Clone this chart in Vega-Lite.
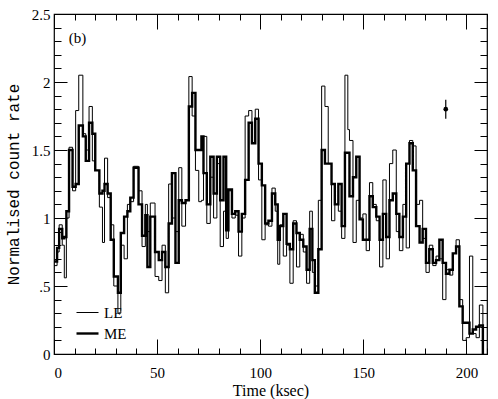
{
  "$schema": "https://vega.github.io/schema/vega-lite/v6.json",
  "width": 433,
  "height": 340,
  "autosize": {"type": "none"},
  "padding": {"left": 54, "top": 14, "right": 11, "bottom": 45},
  "background": "white",
  "config": {
    "view": {"stroke": "black", "strokeWidth": 1.2},
    "axis": {"domain": false, "grid": false, "tickColor": "black", "tickWidth": 1, "labelColor": "black", "titleColor": "black", "labelFont": "Liberation Serif", "labelFontSize": 15, "titleFontWeight": "normal"},
    "legend": {"orient": "none", "legendX": 21, "legendY": 287, "padding": 0, "rowPadding": 0, "symbolType": "stroke", "symbolSize": 484, "symbolStrokeColor": "black", "labelFont": "Liberation Serif", "labelFontSize": 15, "labelColor": "black", "labelOffset": 4}
  },
  "datasets": {
    "series": [
      {"t": 0, "v": 0.68, "s": "ME"}, {"t": 1.5, "v": 0.78, "s": "ME"}, {"t": 2.5, "v": 0.92, "s": "ME"}, {"t": 4, "v": 0.85, "s": "ME"}, {"t": 5, "v": 0.86, "s": "ME"}, {"t": 6, "v": 1.05, "s": "ME"}, {"t": 7.3, "v": 1.5, "s": "ME"}, {"t": 9, "v": 1.23, "s": "ME"}, {"t": 10.5, "v": 1.25, "s": "ME"}, {"t": 12, "v": 1.68, "s": "ME"}, {"t": 14, "v": 1.6, "s": "ME"}, {"t": 15.4, "v": 1.42, "s": "ME"}, {"t": 17, "v": 1.7, "s": "ME"}, {"t": 18.6, "v": 1.62, "s": "ME"}, {"t": 20, "v": 1.35, "s": "ME"}, {"t": 22, "v": 1.18, "s": "ME"}, {"t": 23.5, "v": 1.2, "s": "ME"}, {"t": 24.5, "v": 1.25, "s": "ME"}, {"t": 26, "v": 1.18, "s": "ME"}, {"t": 27.5, "v": 0.84, "s": "ME"}, {"t": 29, "v": 0.57, "s": "ME"}, {"t": 31, "v": 0.45, "s": "ME"}, {"t": 32.4, "v": 0.89, "s": "ME"}, {"t": 34, "v": 1.01, "s": "ME"}, {"t": 35.6, "v": 1.05, "s": "ME"}, {"t": 37, "v": 1.15, "s": "ME"}, {"t": 38.6, "v": 1.37, "s": "ME"}, {"t": 41, "v": 1.1, "s": "ME"}, {"t": 42.7, "v": 0.87, "s": "ME"}, {"t": 44.3, "v": 1.02, "s": "ME"}, {"t": 45.3, "v": 0.64, "s": "ME"}, {"t": 46.7, "v": 1.01, "s": "ME"}, {"t": 49, "v": 0.75, "s": "ME"}, {"t": 50.8, "v": 0.69, "s": "ME"}, {"t": 52.4, "v": 0.75, "s": "ME"}, {"t": 54, "v": 0.64, "s": "ME"}, {"t": 55.6, "v": 0.96, "s": "ME"}, {"t": 57.2, "v": 1.33, "s": "ME"}, {"t": 58.9, "v": 0.67, "s": "ME"}, {"t": 60.5, "v": 1.13, "s": "ME"}, {"t": 62, "v": 1.11, "s": "ME"}, {"t": 63.8, "v": 1.13, "s": "ME"}, {"t": 65.4, "v": 1.82, "s": "ME"}, {"t": 67, "v": 1.92, "s": "ME"}, {"t": 68.6, "v": 1.5, "s": "ME"}, {"t": 70.2, "v": 1.5, "s": "ME"}, {"t": 71.5, "v": 1.6, "s": "ME"}, {"t": 72.5, "v": 1.33, "s": "ME"}, {"t": 74.1, "v": 1.1, "s": "ME"}, {"t": 75.8, "v": 1.45, "s": "ME"}, {"t": 77.4, "v": 1.18, "s": "ME"}, {"t": 79, "v": 1.45, "s": "ME"}, {"t": 80.6, "v": 1.13, "s": "ME"}, {"t": 82.2, "v": 1.45, "s": "ME"}, {"t": 83.5, "v": 0.91, "s": "ME"}, {"t": 84.6, "v": 1.21, "s": "ME"}, {"t": 86.3, "v": 1.03, "s": "ME"}, {"t": 87.9, "v": 1.05, "s": "ME"}, {"t": 89.5, "v": 0.9, "s": "ME"}, {"t": 91.1, "v": 1.03, "s": "ME"}, {"t": 92.7, "v": 1.28, "s": "ME"}, {"t": 94.4, "v": 1.7, "s": "ME"}, {"t": 96, "v": 1.55, "s": "ME"}, {"t": 97.6, "v": 1.73, "s": "ME"}, {"t": 99.2, "v": 1.4, "s": "ME"}, {"t": 100.8, "v": 1.24, "s": "ME"}, {"t": 102.4, "v": 0.96, "s": "ME"}, {"t": 104, "v": 0.98, "s": "ME"}, {"t": 105.7, "v": 1.18, "s": "ME"}, {"t": 107.3, "v": 1.1, "s": "ME"}, {"t": 108.5, "v": 0.84, "s": "ME"}, {"t": 109.5, "v": 0.94, "s": "ME"}, {"t": 111.2, "v": 1.03, "s": "ME"}, {"t": 112.8, "v": 0.81, "s": "ME"}, {"t": 114.4, "v": 0.77, "s": "ME"}, {"t": 116, "v": 0.96, "s": "ME"}, {"t": 117.6, "v": 0.89, "s": "ME"}, {"t": 119.2, "v": 0.84, "s": "ME"}, {"t": 120.9, "v": 0.79, "s": "ME"}, {"t": 122.5, "v": 0.62, "s": "ME"}, {"t": 124, "v": 0.92, "s": "ME"}, {"t": 125.3, "v": 0.69, "s": "ME"}, {"t": 126.5, "v": 0.45, "s": "ME"}, {"t": 128.2, "v": 0.77, "s": "ME"}, {"t": 129.8, "v": 1.5, "s": "ME"}, {"t": 131.4, "v": 1.4, "s": "ME"}, {"t": 133, "v": 1.4, "s": "ME"}, {"t": 134.6, "v": 1.25, "s": "ME"}, {"t": 136.2, "v": 1.1, "s": "ME"}, {"t": 137.9, "v": 1.25, "s": "ME"}, {"t": 139.5, "v": 0.94, "s": "ME"}, {"t": 141.1, "v": 1.48, "s": "ME"}, {"t": 142.5, "v": 1.48, "s": "ME"}, {"t": 143.3, "v": 1.16, "s": "ME"}, {"t": 145, "v": 1.3, "s": "ME"}, {"t": 146.6, "v": 1.45, "s": "ME"}, {"t": 148.2, "v": 0.99, "s": "ME"}, {"t": 149.8, "v": 0.84, "s": "ME"}, {"t": 151.4, "v": 0.84, "s": "ME"}, {"t": 153, "v": 1.16, "s": "ME"}, {"t": 154.6, "v": 1.08, "s": "ME"}, {"t": 156.3, "v": 1.01, "s": "ME"}, {"t": 157.9, "v": 0.84, "s": "ME"}, {"t": 159.5, "v": 1.03, "s": "ME"}, {"t": 161.1, "v": 0.86, "s": "ME"}, {"t": 162.7, "v": 1.13, "s": "ME"}, {"t": 164.3, "v": 1.18, "s": "ME"}, {"t": 166, "v": 1.03, "s": "ME"}, {"t": 167.5, "v": 0.86, "s": "ME"}, {"t": 169.2, "v": 1.01, "s": "ME"}, {"t": 170.8, "v": 1.4, "s": "ME"}, {"t": 172.4, "v": 1.55, "s": "ME"}, {"t": 174, "v": 1.35, "s": "ME"}, {"t": 175.6, "v": 0.94, "s": "ME"}, {"t": 177.3, "v": 0.82, "s": "ME"}, {"t": 178.8, "v": 0.92, "s": "ME"}, {"t": 180.4, "v": 0.67, "s": "ME"}, {"t": 182, "v": 0.77, "s": "ME"}, {"t": 183.7, "v": 0.67, "s": "ME"}, {"t": 185.3, "v": 0.69, "s": "ME"}, {"t": 186.9, "v": 0.84, "s": "ME"}, {"t": 188.5, "v": 0.67, "s": "ME"}, {"t": 190.1, "v": 0.59, "s": "ME"}, {"t": 191.8, "v": 0.62, "s": "ME"}, {"t": 193.4, "v": 0.74, "s": "ME"}, {"t": 195, "v": 0.79, "s": "ME"}, {"t": 196.6, "v": 0.35, "s": "ME"}, {"t": 198.2, "v": 0.23, "s": "ME"}, {"t": 199.9, "v": 0.23, "s": "ME"}, {"t": 201.5, "v": 0.15, "s": "ME"}, {"t": 203.1, "v": 0.18, "s": "ME"}, {"t": 204.7, "v": 0.2, "s": "ME"}, {"t": 206.3, "v": 0.21, "s": "ME"}, {"t": 208, "v": 0, "s": "ME"},
      {"t": 0, "v": 0.65, "s": "LE"}, {"t": 1.5, "v": 0.75, "s": "LE"}, {"t": 2.5, "v": 0.95, "s": "LE"}, {"t": 4, "v": 0.8, "s": "LE"}, {"t": 5, "v": 0.56, "s": "LE"}, {"t": 6, "v": 1.0, "s": "LE"}, {"t": 7.3, "v": 1.52, "s": "LE"}, {"t": 9, "v": 1.2, "s": "LE"}, {"t": 10.5, "v": 1.79, "s": "LE"}, {"t": 12, "v": 2.05, "s": "LE"}, {"t": 14, "v": 1.62, "s": "LE"}, {"t": 15.4, "v": 1.5, "s": "LE"}, {"t": 17, "v": 1.82, "s": "LE"}, {"t": 18.6, "v": 1.42, "s": "LE"}, {"t": 20, "v": 1.35, "s": "LE"}, {"t": 22, "v": 1.08, "s": "LE"}, {"t": 23.5, "v": 0.82, "s": "LE"}, {"t": 24.5, "v": 1.44, "s": "LE"}, {"t": 26, "v": 1.15, "s": "LE"}, {"t": 27.5, "v": 0.95, "s": "LE"}, {"t": 29, "v": 0.5, "s": "LE"}, {"t": 31, "v": 0.3, "s": "LE"}, {"t": 32.4, "v": 0.8, "s": "LE"}, {"t": 34, "v": 0.7, "s": "LE"}, {"t": 35.6, "v": 1.1, "s": "LE"}, {"t": 37, "v": 1.12, "s": "LE"}, {"t": 38.6, "v": 1.38, "s": "LE"}, {"t": 41, "v": 1.2, "s": "LE"}, {"t": 42.7, "v": 0.79, "s": "LE"}, {"t": 44.3, "v": 1.1, "s": "LE"}, {"t": 45.3, "v": 0.9, "s": "LE"}, {"t": 46.7, "v": 1.11, "s": "LE"}, {"t": 49, "v": 0.57, "s": "LE"}, {"t": 50.8, "v": 0.54, "s": "LE"}, {"t": 52.4, "v": 0.8, "s": "LE"}, {"t": 54, "v": 0.45, "s": "LE"}, {"t": 55.6, "v": 1.25, "s": "LE"}, {"t": 57.2, "v": 1.0, "s": "LE"}, {"t": 58.9, "v": 0.9, "s": "LE"}, {"t": 60.5, "v": 1.37, "s": "LE"}, {"t": 62, "v": 0.94, "s": "LE"}, {"t": 63.8, "v": 1.13, "s": "LE"}, {"t": 65.4, "v": 2.04, "s": "LE"}, {"t": 67, "v": 1.75, "s": "LE"}, {"t": 68.6, "v": 1.35, "s": "LE"}, {"t": 70.2, "v": 1.12, "s": "LE"}, {"t": 71.5, "v": 1.13, "s": "LE"}, {"t": 72.5, "v": 1.6, "s": "LE"}, {"t": 74.1, "v": 0.96, "s": "LE"}, {"t": 75.8, "v": 1.3, "s": "LE"}, {"t": 77.4, "v": 1.0, "s": "LE"}, {"t": 79, "v": 1.4, "s": "LE"}, {"t": 80.6, "v": 0.79, "s": "LE"}, {"t": 82.2, "v": 1.05, "s": "LE"}, {"t": 83.5, "v": 0.85, "s": "LE"}, {"t": 84.6, "v": 1.2, "s": "LE"}, {"t": 86.3, "v": 1.0, "s": "LE"}, {"t": 87.9, "v": 1.02, "s": "LE"}, {"t": 89.5, "v": 0.72, "s": "LE"}, {"t": 91.1, "v": 1.0, "s": "LE"}, {"t": 92.7, "v": 1.75, "s": "LE"}, {"t": 94.4, "v": 1.79, "s": "LE"}, {"t": 96, "v": 1.55, "s": "LE"}, {"t": 97.6, "v": 1.8, "s": "LE"}, {"t": 99.2, "v": 1.28, "s": "LE"}, {"t": 100.8, "v": 0.84, "s": "LE"}, {"t": 102.4, "v": 0.95, "s": "LE"}, {"t": 104, "v": 0.94, "s": "LE"}, {"t": 105.7, "v": 1.22, "s": "LE"}, {"t": 107.3, "v": 1.05, "s": "LE"}, {"t": 108.5, "v": 0.66, "s": "LE"}, {"t": 109.5, "v": 0.95, "s": "LE"}, {"t": 111.2, "v": 0.72, "s": "LE"}, {"t": 112.8, "v": 0.8, "s": "LE"}, {"t": 114.4, "v": 0.52, "s": "LE"}, {"t": 116, "v": 0.98, "s": "LE"}, {"t": 117.6, "v": 0.64, "s": "LE"}, {"t": 119.2, "v": 0.88, "s": "LE"}, {"t": 120.9, "v": 0.75, "s": "LE"}, {"t": 122.5, "v": 0.52, "s": "LE"}, {"t": 124, "v": 1.05, "s": "LE"}, {"t": 125.3, "v": 0.6, "s": "LE"}, {"t": 126.5, "v": 0.5, "s": "LE"}, {"t": 128.2, "v": 1.13, "s": "LE"}, {"t": 129.8, "v": 1.97, "s": "LE"}, {"t": 131.4, "v": 1.82, "s": "LE"}, {"t": 133, "v": 1.4, "s": "LE"}, {"t": 134.6, "v": 0.98, "s": "LE"}, {"t": 136.2, "v": 1.1, "s": "LE"}, {"t": 137.9, "v": 1.05, "s": "LE"}, {"t": 139.5, "v": 0.85, "s": "LE"}, {"t": 141.1, "v": 2.05, "s": "LE"}, {"t": 142.5, "v": 1.65, "s": "LE"}, {"t": 143.3, "v": 1.57, "s": "LE"}, {"t": 145, "v": 0.82, "s": "LE"}, {"t": 146.6, "v": 1.13, "s": "LE"}, {"t": 148.2, "v": 1.0, "s": "LE"}, {"t": 149.8, "v": 1.03, "s": "LE"}, {"t": 151.4, "v": 0.76, "s": "LE"}, {"t": 153, "v": 1.26, "s": "LE"}, {"t": 154.6, "v": 1.1, "s": "LE"}, {"t": 156.3, "v": 0.98, "s": "LE"}, {"t": 157.9, "v": 0.64, "s": "LE"}, {"t": 159.5, "v": 1.28, "s": "LE"}, {"t": 161.1, "v": 0.7, "s": "LE"}, {"t": 162.7, "v": 1.4, "s": "LE"}, {"t": 164.3, "v": 1.5, "s": "LE"}, {"t": 166, "v": 0.9, "s": "LE"}, {"t": 167.5, "v": 0.76, "s": "LE"}, {"t": 169.2, "v": 1.1, "s": "LE"}, {"t": 170.8, "v": 0.78, "s": "LE"}, {"t": 172.4, "v": 1.57, "s": "LE"}, {"t": 174, "v": 1.53, "s": "LE"}, {"t": 175.6, "v": 1.1, "s": "LE"}, {"t": 177.3, "v": 1.13, "s": "LE"}, {"t": 178.8, "v": 0.85, "s": "LE"}, {"t": 180.4, "v": 0.6, "s": "LE"}, {"t": 182, "v": 0.8, "s": "LE"}, {"t": 183.7, "v": 0.65, "s": "LE"}, {"t": 185.3, "v": 0.72, "s": "LE"}, {"t": 186.9, "v": 0.7, "s": "LE"}, {"t": 188.5, "v": 0.4, "s": "LE"}, {"t": 190.1, "v": 0.62, "s": "LE"}, {"t": 191.8, "v": 0.58, "s": "LE"}, {"t": 193.4, "v": 0.74, "s": "LE"}, {"t": 195, "v": 0.84, "s": "LE"}, {"t": 196.6, "v": 0.4, "s": "LE"}, {"t": 198.2, "v": 0.1, "s": "LE"}, {"t": 199.9, "v": 0.12, "s": "LE"}, {"t": 201.5, "v": 0.72, "s": "LE"}, {"t": 203.1, "v": 0.15, "s": "LE"}, {"t": 204.7, "v": 0.12, "s": "LE"}, {"t": 206.3, "v": 0.36, "s": "LE"}, {"t": 208, "v": 0, "s": "LE"}
    ],
    "errbar": [{"t": 190, "v": 1.8, "lo": 1.73, "hi": 1.87}],
    "panel": [{"t": 11.4, "v": 2.32, "label": "(b)"}]
  },
  "layer": [
    {
      "data": {"name": "series"},
      "mark": {"type": "line", "interpolate": "step-after", "color": "black", "strokeJoin": "miter"},
      "encoding": {
        "x": {"field": "t", "type": "quantitative", "scale": {"domain": [0, 210], "nice": false, "zero": false},
          "axis": {"orient": "bottom", "values": [0, 50, 100, 150, 200], "tickSize": -15, "labelPadding": 26, "title": "Time (ksec)", "titleFont": "Liberation Serif", "titleFontSize": 16, "titlePadding": 2}},
        "y": {"field": "v", "type": "quantitative", "scale": {"domain": [0, 2.5], "nice": false, "zero": false},
          "axis": {"orient": "left", "values": [0, 0.5, 1, 1.5, 2, 2.5], "tickSize": -13, "labelPadding": 17, "labelExpr": "datum.value == 0.5 ? '.5' : format(datum.value, '~g')", "title": "Normalised count rate", "titleFont": "Liberation Mono", "titleFontSize": 16, "titlePadding": 10}},
        "strokeWidth": {"field": "s", "type": "ordinal", "scale": {"domain": ["LE", "ME"], "range": [1, 2.4]}, "legend": {"title": null}},
        "detail": {"field": "s"}
      }
    },
    {
      "data": {"name": "errbar"},
      "mark": {"type": "rule", "color": "black", "strokeWidth": 1.2},
      "encoding": {
        "x": {"field": "t", "type": "quantitative", "scale": {"domain": [0, 210], "nice": false, "zero": false},
          "axis": {"orient": "bottom", "values": [0, 10, 20, 30, 40, 50, 60, 70, 80, 90, 100, 110, 120, 130, 140, 150, 160, 170, 180, 190, 200, 210], "tickSize": -6, "labels": false, "title": null}},
        "y": {"field": "lo", "type": "quantitative", "scale": {"domain": [0, 2.5], "nice": false, "zero": false},
          "axis": {"orient": "left", "values": [0, 0.1, 0.2, 0.3, 0.4, 0.5, 0.6, 0.7, 0.8, 0.9, 1, 1.1, 1.2, 1.3, 1.4, 1.5, 1.6, 1.7, 1.8, 1.9, 2, 2.1, 2.2, 2.3, 2.4, 2.5], "tickSize": -7, "labels": false, "title": null}},
        "y2": {"field": "hi"}
      }
    },
    {
      "data": {"name": "errbar"},
      "mark": {"type": "point", "filled": true, "color": "black", "size": 22, "opacity": 1},
      "encoding": {
        "x": {"field": "t", "type": "quantitative", "scale": {"domain": [0, 210], "nice": false, "zero": false},
          "axis": {"orient": "top", "values": [0, 50, 100, 150, 200], "tickSize": -15, "labels": false, "title": null}},
        "y": {"field": "v", "type": "quantitative", "scale": {"domain": [0, 2.5], "nice": false, "zero": false},
          "axis": {"orient": "right", "values": [0, 0.5, 1, 1.5, 2, 2.5], "tickSize": -13, "labels": false, "title": null}}
      }
    },
    {
      "data": {"name": "panel"},
      "mark": {"type": "text", "font": "Liberation Serif", "fontSize": 15, "color": "black"},
      "encoding": {
        "x": {"field": "t", "type": "quantitative", "scale": {"domain": [0, 210], "nice": false, "zero": false},
          "axis": {"orient": "top", "values": [0, 10, 20, 30, 40, 50, 60, 70, 80, 90, 100, 110, 120, 130, 140, 150, 160, 170, 180, 190, 200, 210], "tickSize": -6, "labels": false, "title": null}},
        "y": {"field": "v", "type": "quantitative", "scale": {"domain": [0, 2.5], "nice": false, "zero": false},
          "axis": {"orient": "right", "values": [0, 0.1, 0.2, 0.3, 0.4, 0.5, 0.6, 0.7, 0.8, 0.9, 1, 1.1, 1.2, 1.3, 1.4, 1.5, 1.6, 1.7, 1.8, 1.9, 2, 2.1, 2.2, 2.3, 2.4, 2.5], "tickSize": -7, "labels": false, "title": null}},
        "text": {"field": "label"}
      }
    }
  ],
  "resolve": {"axis": {"x": "independent", "y": "independent"}}
}
